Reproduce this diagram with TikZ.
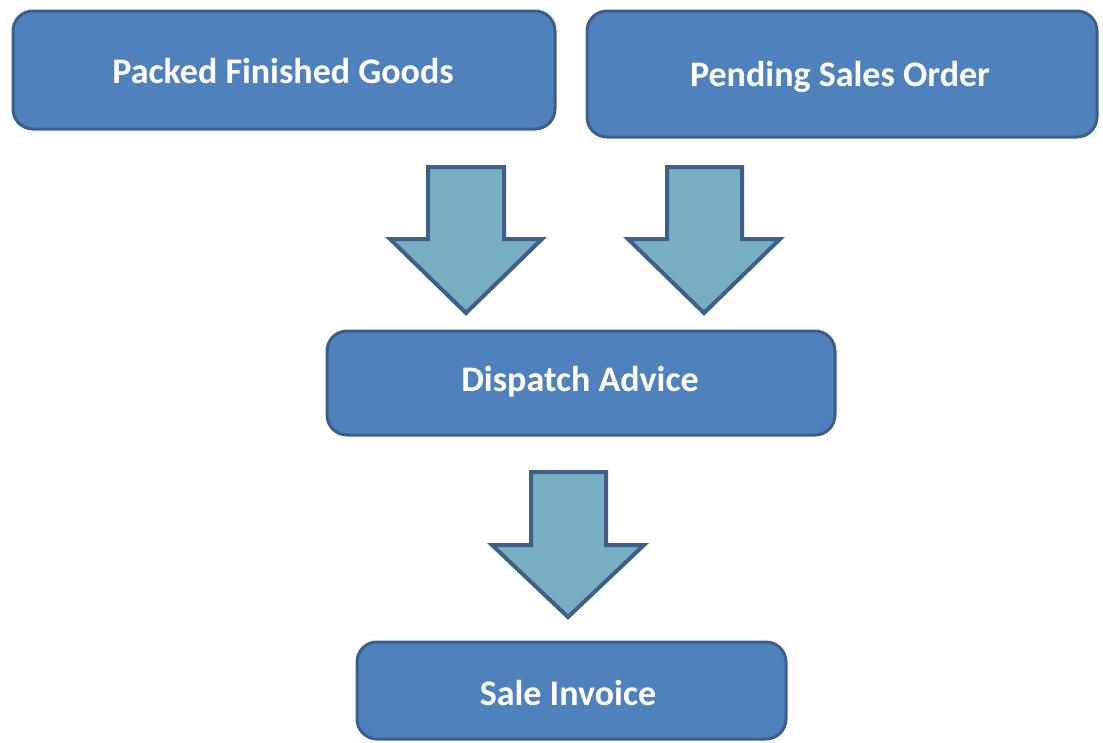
\documentclass[tikz,border=0pt]{standalone}
\usepackage{fontspec}
\setmainfont{Carlito}
\definecolor{boxfill}{HTML}{4F81BD}
\definecolor{boxline}{HTML}{3B5E8C}
\definecolor{arrfill}{HTML}{78AEC2}
\definecolor{arrline}{HTML}{3D5F8A}
\tikzset{
  box/.style={draw=boxline, line width=3pt, fill=boxfill, rounded corners=20pt},
  lbl/.style={text=white, font=\bfseries\fontsize{36}{42}\selectfont},
  bigarrow/.style={draw=arrline, line width=4pt, fill=arrfill, line join=miter}
}
\begin{document}
\begin{tikzpicture}[x=1pt,y=-1pt]
\useasboundingbox (0,0) rectangle (1103,742);
\fill[white] (0,0) rectangle (1103,742);
% boxes
\draw[box] (13,11) rectangle (555,129);
\node[lbl] (pfg) at (283,71) {Packed Finished Goods};
\draw[box] (587,11) rectangle (1097,137);
\node[lbl] (pso) at (840,77) {Pending Sales Order};
\draw[box] (327,331) rectangle (835,435);
\node[lbl] (da) at (580,382) {Dispatch Advice};
\draw[box] (357,642) rectangle (786,739);
\node[lbl] (si) at (568,693) {Sale Invoice};
% arrows
\draw[bigarrow] (428,167) -- (504,167) -- (504,239) -- (542,239) -- (466,313) -- (390,239) -- (428,239) -- cycle;
\draw[bigarrow] (667,167) -- (742,167) -- (742,239) -- (780,239) -- (704,313) -- (628,239) -- (667,239) -- cycle;
\draw[bigarrow] (531,472) -- (606,472) -- (606,545) -- (644,545) -- (568,617) -- (492,545) -- (531,545) -- cycle;
\end{tikzpicture}
\end{document}
